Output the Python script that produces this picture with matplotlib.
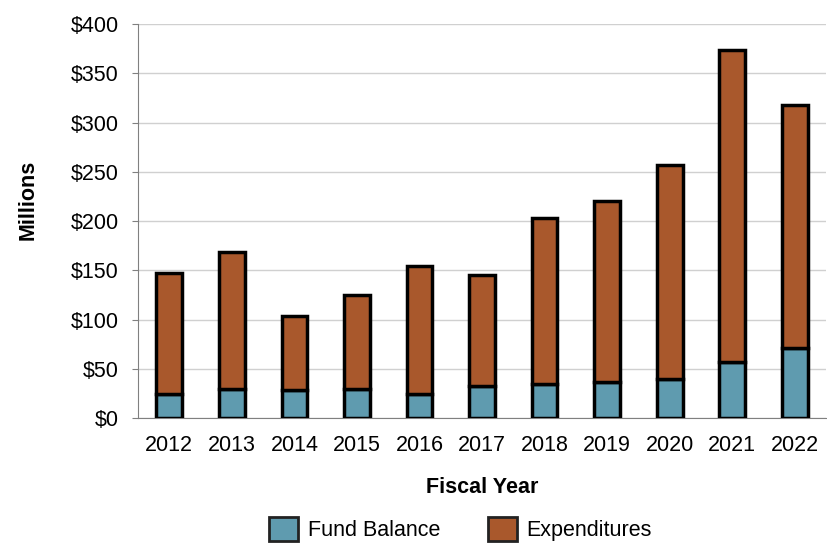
import numpy as np
import matplotlib
matplotlib.use('Agg')
import matplotlib.pyplot as plt
from matplotlib.patches import Patch

plt.rcParams['font.family'] = ['Liberation Sans', 'DejaVu Sans']

years = ['2012', '2013', '2014', '2015', '2016', '2017', '2018', '2019', '2020', '2021', '2022']
fund_balance = [24, 29, 28, 29, 24, 33, 35, 37, 40, 56.5, 71]
expenditures = [123, 140, 75.5, 95.5, 130, 112, 168, 183, 217, 317.5, 246.5]

c_fund = '#5F9BAF'
c_exp = '#A9582C'
fs = 15.5

fig = plt.figure(figsize=(8.28, 5.48), dpi=100)
ax = fig.add_axes([0.1667, 0.2372, 0.831, 0.7188])

x = np.arange(len(years))
ax.bar(x, fund_balance, width=0.41, color=c_fund, edgecolor='black', linewidth=2.5, zorder=3)
ax.bar(x, expenditures, width=0.41, bottom=fund_balance, color=c_exp, edgecolor='black', linewidth=2.5, zorder=3)

ax.set_xlim(-0.5, len(years) - 0.5)
ax.set_ylim(0, 400)
ax.set_yticks(np.arange(0, 401, 50))
ax.set_yticklabels(['$%d' % v for v in range(0, 401, 50)])
ax.set_xticks(x)
ax.set_xticklabels(years)

ax.grid(axis='y', color='#d0d0d0', linewidth=1, zorder=0)
ax.set_axisbelow(True)
for s in ['top', 'right']:
    ax.spines[s].set_visible(False)
ax.spines['left'].set_color('#808080')
ax.spines['bottom'].set_color('#808080')
ax.tick_params(axis='y', length=4, color='#808080', labelsize=fs, pad=10)
ax.tick_params(axis='x', length=0, labelsize=fs, pad=12)

ax.set_xlabel('Fiscal Year', fontsize=fs, fontweight='bold', labelpad=15)
fig.text(0.034, 0.635, 'Millions', rotation=90, fontsize=fs, fontweight='bold', ha='center', va='center')

handles = [Patch(facecolor=c_fund, edgecolor='#222222', linewidth=2),
           Patch(facecolor=c_exp, edgecolor='#222222', linewidth=2)]
fig.legend(handles, ['Fund Balance', 'Expenditures'], loc='upper center', bbox_to_anchor=(0.556, 0.092),
           ncol=2, frameon=False, fontsize=fs, handlelength=1.35, handleheight=1.35,
           handletextpad=0.45, columnspacing=2.2)

fig.savefig('out.png', dpi=100)
